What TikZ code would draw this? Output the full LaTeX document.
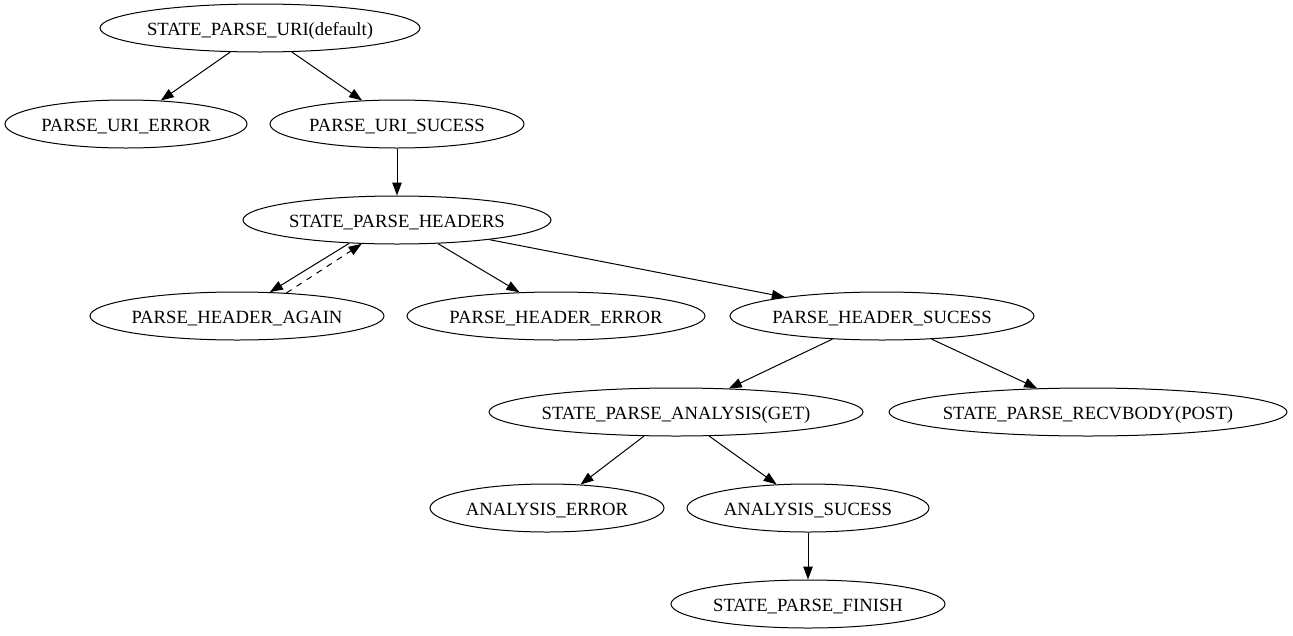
\documentclass[tikz,border=0pt]{standalone}
\usepackage{fontspec}
\setmainfont{Liberation Serif}
\usetikzlibrary{shapes.geometric,arrows.meta}
\newcommand{\mk}[1]{\makebox[0pt]{#1}}
\begin{document}
\begin{tikzpicture}[x=1pt,y=-1pt,
  st/.style={ellipse, draw, line width=1pt, minimum height=48pt, inner sep=0pt,
    text height=14pt, text depth=0pt,
    font=\fontsize{18.67}{22}\selectfont},
  edge/.style={line width=1pt, -{Triangle[length=13pt,width=9.5pt]}},
  back/.style={edge, dash pattern=on 6pt off 6pt}]
\useasboundingbox (0,0) rectangle (1293,635);
\node[st, minimum width=320pt] (uri) at (260,28) {\mk{STATE\_PARSE\_URI(default)}};
\node[st, minimum width=242pt] (urierr) at (126,124) {\mk{PARSE\_URI\_ERROR}};
\node[st, minimum width=254pt] (urisuc) at (397,124) {\mk{PARSE\_URI\_SUCESS}};
\node[st, minimum width=308pt] (hdrs) at (397,220) {\mk{STATE\_PARSE\_HEADERS}};
\node[st, minimum width=294pt] (again) at (237,316) {\mk{PARSE\_HEADER\_AGAIN}};
\node[st, minimum width=298pt] (hdrerr) at (556,316) {\mk{PARSE\_HEADER\_ERROR}};
\node[st, minimum width=304pt] (hdrsuc) at (882,316) {\mk{PARSE\_HEADER\_SUCESS}};
\node[st, minimum width=374pt] (ana) at (676,412) {\mk{STATE\_PARSE\_ANALYSIS(GET)}};
\node[st, minimum width=398pt] (recv) at (1088,412) {\mk{STATE\_PARSE\_RECVBODY(POST)}};
\node[st, minimum width=234pt] (aerr) at (547,508) {\mk{ANALYSIS\_ERROR}};
\node[st, minimum width=242pt] (asuc) at (808,508) {\mk{ANALYSIS\_SUCESS}};
\node[st, minimum width=274pt] (fin) at (808,604) {\mk{STATE\_PARSE\_FINISH}};

\draw[edge] (uri.219) -- (urierr.34);
\draw[edge] (uri.323) -- (urisuc.146);
\draw[edge] (urisuc.270) -- (hdrs.90);
\draw[edge] (hdrs.206) -- (again.36.6);
\draw[back] (again.25.6) -- (hdrs.214.9);
\draw[edge] (hdrs.330) -- (hdrerr.147.7);
\draw[edge] (hdrs.348.2) -- (hdrsuc.169.2);
\draw[edge] (hdrsuc.205.1) -- (ana.24.3);
\draw[edge] (hdrsuc.335.3) -- (recv.155.3);
\draw[edge] (ana.217.7) -- (aerr.35.4);
\draw[edge] (ana.324.8) -- (asuc.143.7);
\draw[edge] (asuc.270) -- (fin.90);
\end{tikzpicture}
\end{document}
